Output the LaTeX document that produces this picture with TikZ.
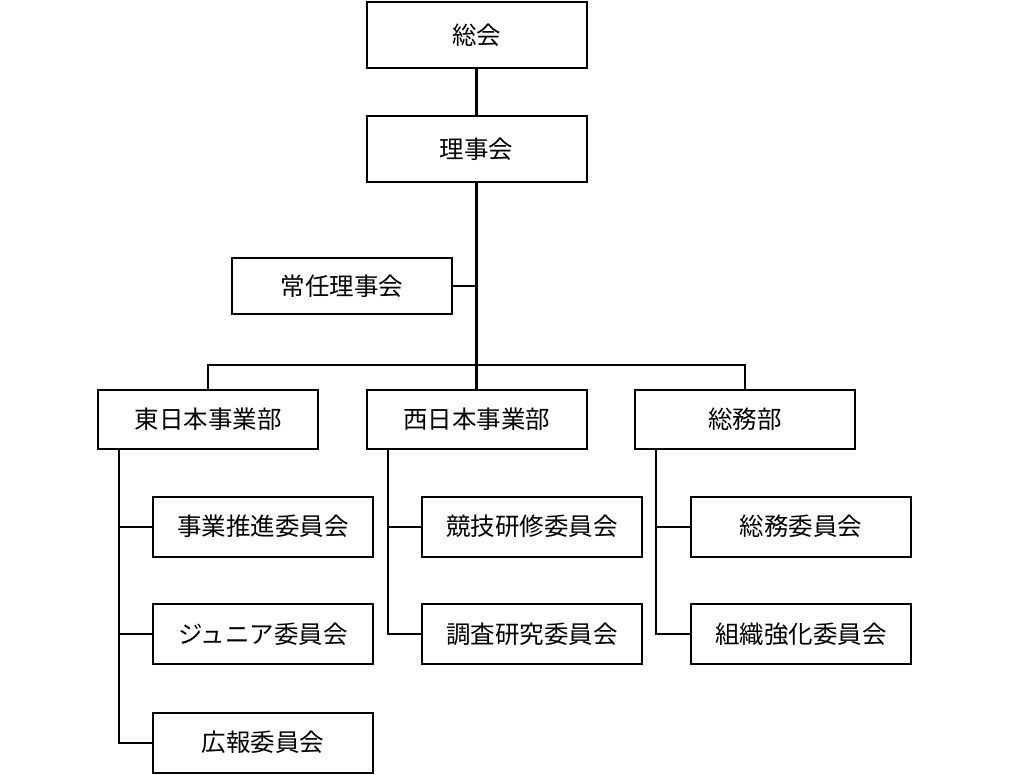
\documentclass[tikz,border=0pt]{standalone}
\usepackage{fontspec}
\setmainfont{Noto Sans CJK JP}
\usepackage{tikz}
\usetikzlibrary{positioning}

\begin{document}
\begin{tikzpicture}[
    x=1pt,y=-1pt,
    org/.style={rectangle,draw,line width=2pt,minimum width=220pt,minimum height=59pt,inner sep=0pt,font=\fontsize{24.5}{28}\selectfont},
    top/.style={org,minimum height=66pt},
    link/.style={line width=2pt},
    trunk/.style={line width=3pt}
]
\useasboundingbox (0,0) rectangle (1009,775);

% Top level
\node[top] (soukai) at (476.5,35.5) {総会};
\node[top] (rijikai) at (476.5,149.5) {理事会};
\node[org,minimum height=56pt] (jonin) at (342,286) {常任理事会};

% Divisions
\node[org] (higashi) at (208,419) {東日本事業部};
\node[org] (nishi) at (476.5,419) {西日本事業部};
\node[org] (soumubu) at (745,419) {総務部};

% Committees
\node[org,minimum height=60pt] (suishin) at (263,526.5) {事業推進委員会};
\node[org,minimum height=60pt] (junior) at (263,634) {ジュニア委員会};
\node[org,minimum height=60pt] (kouhou) at (263,742.5) {広報委員会};
\node[org,minimum height=60pt] (kyougi) at (532,526.5) {競技研修委員会};
\node[org,minimum height=60pt] (chousa) at (532,634) {調査研究委員会};
\node[org,minimum height=60pt] (soumui) at (801,526.5) {総務委員会};
\node[org,minimum height=60pt] (soshiki) at (801,634) {組織強化委員会};

% Trunk
\coordinate (bus) at (476.5,365);
\draw[trunk] (soukai) -- (rijikai);
\draw[trunk] (rijikai.south) -- (nishi.north);
\draw[link] (jonin.east) -- (rijikai.south |- jonin.east);
\draw[link] (higashi.north) |- (bus) -| (soumubu.north);

% Branches
\foreach \div/\first/\last in {higashi/suishin/kouhou,nishi/kyougi/chousa,soumubu/soumui/soshiki}{
  \draw[link] ([xshift=22pt]\div.south west) |- (\last.west);
  \draw[link] ([xshift=22pt]\div.south west |- \first.west) -- (\first.west);
}
\draw[link] ([xshift=22pt]higashi.south west |- junior.west) -- (junior.west);

\end{tikzpicture}
\end{document}
